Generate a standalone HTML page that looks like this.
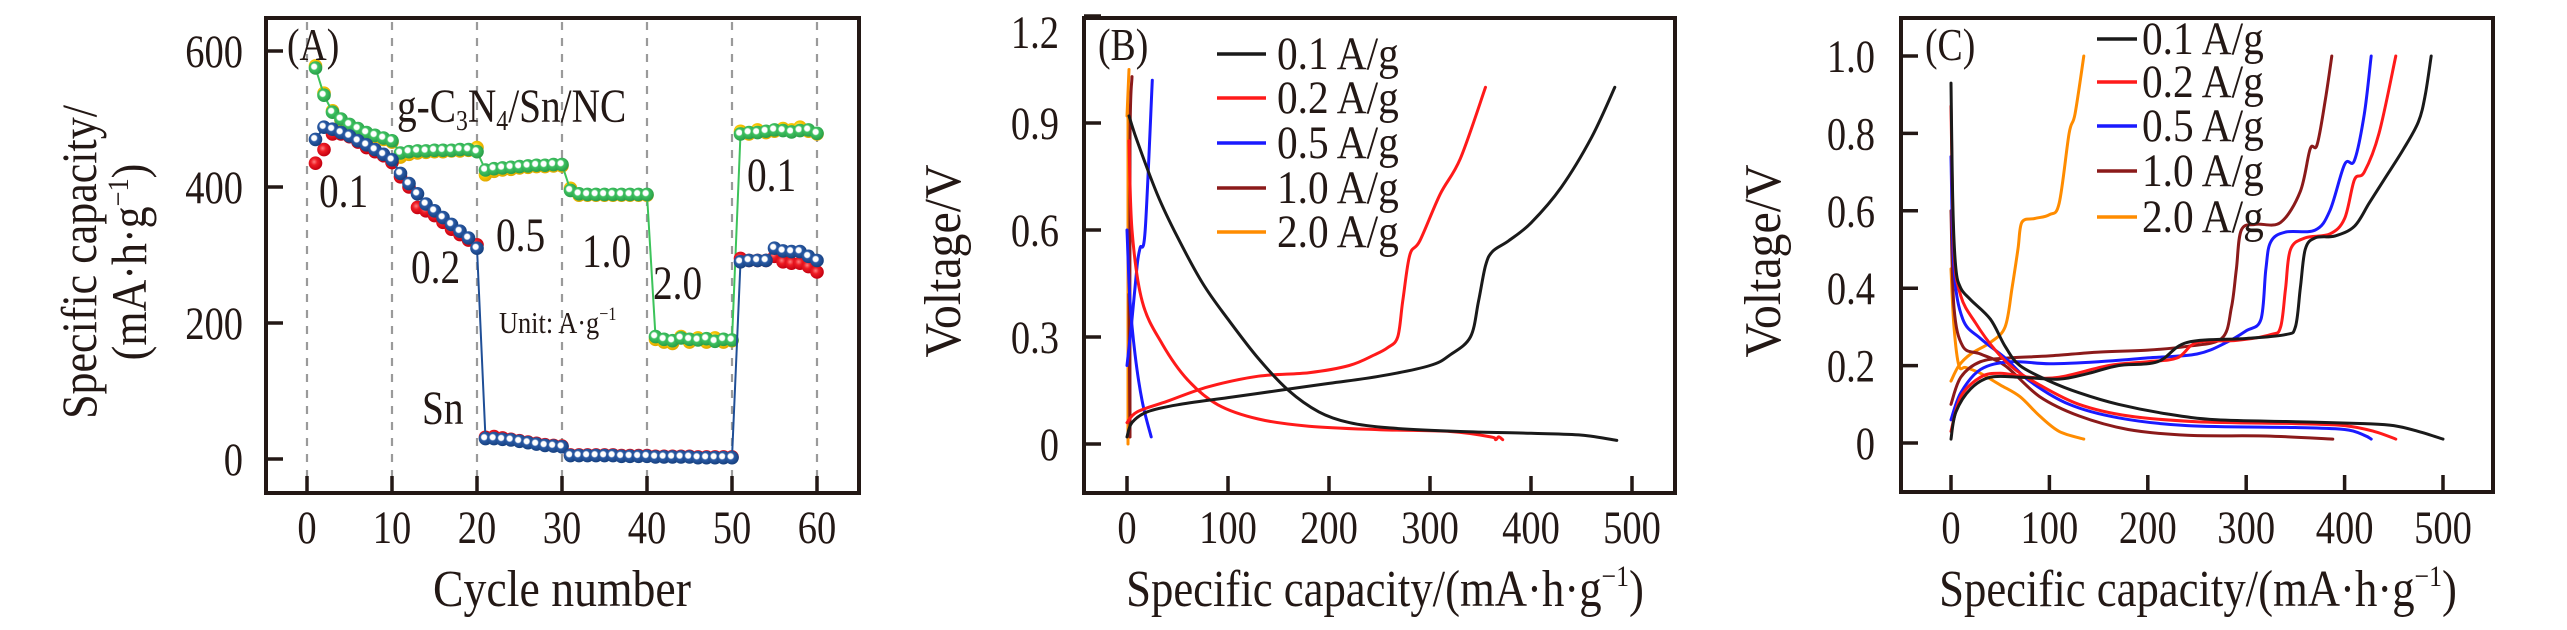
<!DOCTYPE html>
<html><head><meta charset="utf-8"><style>
html,body{margin:0;padding:0;background:#fff;}
svg{display:block;}
text{font-family:"Liberation Serif","DejaVu Serif",serif;fill:#231815;}
</style></head><body>
<svg id="fig" width="2567" height="630" viewBox="0 0 2567 630" xmlns="http://www.w3.org/2000/svg" font-family="Liberation Serif, DejaVu Serif, serif">
<defs>
<radialGradient id="gGreen" cx="0.4" cy="0.4" r="0.6"><stop offset="0" stop-color="#ffffff"/><stop offset="0.3" stop-color="#ffffff"/><stop offset="0.45" stop-color="#3dc160"/><stop offset="1" stop-color="#2a9e48"/></radialGradient>
<radialGradient id="gYellow" cx="0.4" cy="0.4" r="0.6"><stop offset="0" stop-color="#fff3a0"/><stop offset="0.5" stop-color="#f7c600"/><stop offset="1" stop-color="#e0a800"/></radialGradient>
<radialGradient id="gBlue" cx="0.4" cy="0.4" r="0.6"><stop offset="0" stop-color="#ffffff"/><stop offset="0.3" stop-color="#ffffff"/><stop offset="0.45" stop-color="#2a5aa5"/><stop offset="1" stop-color="#16407f"/></radialGradient>
<radialGradient id="gRed" cx="0.4" cy="0.4" r="0.6"><stop offset="0" stop-color="#ff8080"/><stop offset="0.4" stop-color="#ee1c24"/><stop offset="1" stop-color="#c40010"/></radialGradient>
</defs>
</svg>
<script>
// ---------- Panel A data ----------
const cyclesA = Array.from({length:60},(_,i)=>i+1);
const greenA = [575,535,510,500,492,486,480,476,472,468,450,452,453,453,454,454,454,455,455,452,425,427,428,429,430,431,432,432,433,433,395,390,389,389,389,389,389,389,389,389,180,176,174,178,176,175,177,173,176,175,478,480,480,482,484,483,481,483,484,479];
const yellowA = [578,538,512,498,490,484,478,474,470,466,444,448,450,451,452,452,453,453,454,458,418,423,425,426,428,429,430,430,431,431,398,388,388,388,388,388,388,388,388,388,176,172,170,180,172,178,172,178,172,174,482,478,484,480,482,486,484,488,482,478];
const blueA = [470,488,485,480,475,468,462,455,448,440,420,405,390,375,365,355,345,335,325,310,30,30,29,28,26,24,22,20,19,18,5,5,5,5,5,5,4,4,4,4,3,3,3,3,3,2,2,2,2,2,290,292,292,292,310,306,305,305,298,292];
const redA = [435,455,478,478,474,466,458,452,446,436,415,400,370,365,358,348,338,330,322,315,32,33,31,29,27,25,23,21,20,19,6,6,6,6,6,6,5,5,5,5,4,4,4,4,4,3,3,3,3,3,295,292,292,292,298,290,288,288,283,275];
const xTicksA = [0,10,20,30,40,50,60];
const yTicksA = [0,200,400,600];

// ---------- Panel B data ----------
const ratesB = ["0.1 A/g","0.2 A/g","0.5 A/g","1.0 A/g","2.0 A/g"];
const b01ch = [[0,0.02],[5,0.06],[20,0.09],[50,0.11],[100,0.13],[150,0.15],[200,0.17],[250,0.19],[300,0.22],[320,0.25],[340,0.3],[348,0.4],[355,0.5],[362,0.54],[378,0.57],[400,0.62],[430,0.72],[460,0.86],[483,1.0]];
const b01dc = [[2,0.92],[10,0.85],[30,0.7],[50,0.58],[75,0.45],[100,0.35],[130,0.24],[160,0.15],[190,0.09],[220,0.06],[260,0.045],[330,0.035],[400,0.03],[450,0.025],[485,0.01]];
const b02ch = [[0,0.06],[10,0.09],[40,0.12],[80,0.16],[130,0.19],[180,0.2],[220,0.22],[245,0.25],[258,0.27],[268,0.3],[273,0.4],[280,0.53],[290,0.57],[310,0.7],[330,0.8],[355,1.0]];
const b02dc = [[2,0.85],[5,0.6],[15,0.4],[35,0.28],[60,0.18],[90,0.11],[130,0.07],[180,0.05],[250,0.04],[320,0.035],[360,0.02],[365,0.012],[368,0.02],[372,0.012]];
const b05ch = [[0,0.22],[5,0.35],[10,0.5],[13,0.55],[18,0.6],[25,1.02]];
const b05dc = [[0,0.6],[3,0.4],[8,0.25],[15,0.12],[24,0.02]];
const b10ch = [[3,0.02],[3,0.85],[5,1.03]];
const b10dc = [[2,0.42],[3,0.02]];
const b20ch = [[0,0.92],[2,1.05]];
const b20dc = [[1,0.95],[1,0.0]];
const xTicksB = [0,100,200,300,400,500];
const yTicksB = [0,0.3,0.6,0.9,1.2];

// ---------- Panel C data ----------
const c01dc = [[0,0.93],[2,0.6],[5,0.45],[10,0.4],[20,0.37],[40,0.32],[55,0.25],[70,0.2],[100,0.16],[130,0.13],[170,0.1],[220,0.075],[270,0.06],[350,0.055],[420,0.05],[450,0.045],[475,0.03],[500,0.01]];
const c01ch = [[0,0.01],[5,0.08],[20,0.14],[40,0.17],[70,0.17],[110,0.165],[140,0.18],[170,0.2],[210,0.21],[240,0.26],[300,0.27],[340,0.28],[350,0.3],[355,0.4],[360,0.5],[370,0.53],[390,0.535],[410,0.56],[425,0.62],[440,0.68],[460,0.76],[475,0.83],[482,0.9],[488,1.0]];
const c02dc = [[0,0.87],[3,0.5],[10,0.38],[25,0.31],[45,0.24],[65,0.19],[90,0.15],[130,0.1],[180,0.07],[250,0.055],[350,0.05],[400,0.045],[430,0.03],[452,0.01]];
const c02ch = [[0,0.03],[10,0.12],[30,0.17],[50,0.18],[80,0.17],[110,0.17],[160,0.2],[200,0.21],[230,0.22],[250,0.26],[290,0.265],[325,0.28],[335,0.3],[340,0.4],[345,0.5],[360,0.53],[385,0.54],[400,0.58],[410,0.68],[420,0.7],[435,0.8],[452,1.0]];
const c05dc = [[0,0.74],[3,0.45],[12,0.32],[30,0.27],[55,0.22],[80,0.16],[120,0.1],[170,0.065],[240,0.045],[350,0.04],[400,0.035],[420,0.02],[427,0.01]];
const c05ch = [[0,0.06],[10,0.13],[30,0.19],[60,0.21],[100,0.205],[150,0.21],[200,0.22],[250,0.23],[280,0.26],[300,0.29],[315,0.32],[320,0.45],[325,0.52],[340,0.545],[370,0.55],[385,0.6],[400,0.72],[410,0.73],[420,0.85],[427,1.0]];
const c10dc = [[0,0.6],[3,0.35],[12,0.25],[30,0.23],[55,0.2],[90,0.12],[130,0.07],[180,0.035],[240,0.02],[320,0.018],[388,0.01]];
const c10ch = [[0,0.1],[10,0.17],[30,0.21],[60,0.22],[100,0.225],[150,0.235],[200,0.24],[240,0.25],[275,0.27],[285,0.35],[290,0.45],[295,0.55],[310,0.565],[335,0.57],[355,0.65],[365,0.76],[372,0.77],[380,0.88],[387,1.0]];
const c20dc = [[0,0.45],[3,0.3],[8,0.2],[15,0.195],[30,0.18],[50,0.15],[70,0.12],[90,0.07],[110,0.03],[135,0.01]];
const c20ch = [[0,0.16],[8,0.2],[20,0.23],[40,0.26],[55,0.3],[62,0.4],[68,0.5],[72,0.57],[85,0.58],[100,0.59],[110,0.62],[120,0.8],[126,0.85],[135,1.0]];
const xTicksC = [0,100,200,300,400,500];
const yTicksC = [0,0.2,0.4,0.6,0.8,1.0];

const NS = "http://www.w3.org/2000/svg";
const svg = document.getElementById('fig');
function mk(tag, attrs, parent){
  const e = document.createElementNS(NS, tag);
  for (const k in attrs) e.setAttribute(k, attrs[k]);
  (parent||svg).appendChild(e);
  return e;
}
function lin(d0,d1,p0,p1){ return v => p0 + (v-d0)*(p1-p0)/(d1-d0); }
function txt(x,y,s,anchor,size,sx,parent){
  const t = mk('text',{transform:`translate(${x},${y}) scale(${sx},1)`,'text-anchor':anchor,'font-size':size},parent);
  t.textContent = s;
  return t;
}
const COL = {k:'#1a1a1a', r:'#ff1a1a', b:'#1a1aff', d:'#8b1a1a', o:'#ff8c00'};

function frame(g, box){
  mk('rect',{x:box.l,y:box.t,width:box.r-box.l,height:box.b-box.t,fill:'none',stroke:'#231815','stroke-width':4},g);
}
function xAxis(g, ticks, sx, box, fmt){
  ticks.forEach(v=>{
    const x = sx(v);
    const tk = mk('line',{x1:x,x2:x,y1:box.b,y2:box.b-17,stroke:'#231815','stroke-width':3.5},g);
    
    
    const lb = txt(x,543,fmt(v),'middle',47,0.82,g);
    
    
  });
}
function yAxis(g, ticks, sy, box, fmt, labelRight){
  ticks.forEach(v=>{
    const y = sy(v);
    const tk = mk('line',{x1:box.l,x2:box.l+17,y1:y,y2:y,stroke:'#231815','stroke-width':3.5},g);
    
    
    const ly = Math.max(y, box.t+14);
    const lb = txt(labelRight, ly+16,fmt(v),'end',47,0.82,g);
    
    
  });
}
function smoothPath(P){
  if (P.length<3) return 'M'+P.map(p=>p[0].toFixed(1)+','+p[1].toFixed(1)).join(' L');
  let d = 'M'+P[0][0].toFixed(1)+','+P[0][1].toFixed(1);
  for (let i=0;i<P.length-1;i++){
    const p0=P[Math.max(0,i-1)], p1=P[i], p2=P[i+1], p3=P[Math.min(P.length-1,i+2)];
    const c1=[p1[0]+(p2[0]-p0[0])/6, p1[1]+(p2[1]-p0[1])/6];
    const c2=[p2[0]-(p3[0]-p1[0])/6, p2[1]-(p3[1]-p1[1])/6];
    d += ` C${c1[0].toFixed(1)},${c1[1].toFixed(1)} ${c2[0].toFixed(1)},${c2[1].toFixed(1)} ${p2[0].toFixed(1)},${p2[1].toFixed(1)}`;
  }
  return d;
}
function curve(g, pts, sx, sy, color, name){
  const P = pts.map(q=>[sx(q[0]), sy(q[1])]);
  const p = mk('path',{d:smoothPath(P),fill:'none',stroke:color,'stroke-width':3,'stroke-linejoin':'round','stroke-linecap':'round'},g);
  
  
}

// ================= Panel A =================
(function(){
  const g = mk('g',{});
  
  
  const box = {l:266,r:859,t:18,b:493};
  const sx = lin(0,10,307,392), sy = lin(0,600,459,51);
  xTicksA.forEach(v=>{
    const dl = mk('line',{x1:sx(v),x2:sx(v),y1:box.t+4,y2:box.b-4,stroke:'#9a9a9a','stroke-width':2.2,'stroke-dasharray':'8,8'},g);
    
    
  });
  frame(g, box);
  xAxis(g, xTicksA, sx, box, v=>String(v));
  yAxis(g, yTicksA, sy, box, v=>String(v), 243);
  const series = [[yellowA,'gYellow',null,'series-ceff-yellow'],[greenA,'gGreen','#3cc35a','series-gc3n4-sn-nc'],[redA,'gRed',null,'series-sn-red'],[blueA,'gBlue','#1f4e96','series-sn']];
  series.forEach(([vals,grad,lc,name])=>{
    const sg = mk('g',{},g);
    
    
    if (lc){
      const pl = mk('polyline',{points:vals.map((v,i)=>sx(cyclesA[i])+','+sy(v)).join(' '),fill:'none',stroke:lc,'stroke-width':2},sg);
      
      
    }
    vals.forEach((v,i)=>{
      const c = mk('circle',{cx:sx(cyclesA[i]),cy:sy(v),r:6.8,fill:`url(#${grad})`},sg);
      
      
    });
  });
  const ann = [[287,60,'(A)',46,'panel-label-a'],[319,207,'0.1',48,'rate-label-0-1'],[411,283,'0.2',48,'rate-label-0-2'],[496,251,'0.5',48,'rate-label-0-5'],[582,267,'1.0',48,'rate-label-1-0'],[653,299,'2.0',48,'rate-label-2-0'],[747,191,'0.1',48,'rate-label-0-1-return'],[422,424,'Sn',48,'sn-label']];
  ann.forEach(a=>{
    const t = txt(a[0],a[1],a[2],'start',a[3],0.82,g);
    
    
  });
  const gl = mk('text',{transform:'translate(397,122) scale(0.82,1)','font-size':48},g);
  gl.innerHTML = 'g-C<tspan font-size="29" dy="8">3</tspan><tspan dy="-8">N</tspan><tspan font-size="29" dy="8">4</tspan><tspan dy="-8">/Sn/NC</tspan>';
  
  
  const un = mk('text',{transform:'translate(499,333) scale(0.85,1)','font-size':31},g);
  un.innerHTML = 'Unit: A·g<tspan font-size="19" dy="-13">−1</tspan>';
  
  
  const yt = mk('text',{transform:'translate(96,262) rotate(-90) scale(0.88,1)','text-anchor':'middle','font-size':50},g);
  yt.textContent = 'Specific capacity/';
  
  
  const yt2 = mk('text',{transform:'translate(146,262) rotate(-90) scale(0.88,1)','text-anchor':'middle','font-size':50},g);
  yt2.innerHTML = '(mA·h·g<tspan font-size="30" dy="-18">−1</tspan><tspan dy="18">)</tspan>';
  
  
  const xt = txt(562,606,'Cycle number','middle',52,0.88,g);
  
  
})();

// ================= Panel B =================
function legend(g, x1, x2, tx, ys, cols, labels, name){
  labels.forEach((s,i)=>{
    const e = mk('g',{},g);
    
    
    mk('line',{x1:x1,x2:x2,y1:ys[i],y2:ys[i],stroke:cols[i],'stroke-width':3.5},e);
    txt(tx, ys[i]+15, s, 'start', 47, 0.88, e);
  });
}
(function(){
  const g = mk('g',{});
  
  
  const box = {l:1084,r:1675,t:18,b:493};
  const sx = lin(0,100,1127,1228), sy = lin(0,0.3,444,337);
  frame(g, box);
  xAxis(g, xTicksB, sx, box, v=>String(v));
  yAxis(g, yTicksB, sy, box, v=>v===0?'0':v.toFixed(1), 1059);
  [[b20ch,COL.o,'curve-2-0-charge'],[b20dc,COL.o,'curve-2-0-discharge'],[b10ch,COL.d,'curve-1-0-charge'],[b10dc,COL.d,'curve-1-0-discharge'],[b05ch,COL.b,'curve-0-5-charge'],[b05dc,COL.b,'curve-0-5-discharge'],[b02ch,COL.r,'curve-0-2-charge'],[b02dc,COL.r,'curve-0-2-discharge'],[b01ch,COL.k,'curve-0-1-charge'],[b01dc,COL.k,'curve-0-1-discharge']].forEach(c=>curve(g,c[0],sx,sy,c[1],c[2]));
  legend(g,1217,1266,1277,[54,98,143,188,232],[COL.k,COL.r,COL.b,COL.d,COL.o],ratesB,'legend-entry-b');
  const pl = txt(1098,60,'(B)','start',46,0.82,g);
  
  
  const yt = mk('text',{transform:'translate(960,261) rotate(-90) scale(0.92,1)','text-anchor':'middle','font-size':52},g);
  yt.textContent = 'Voltage/V';
  
  
  const xt = mk('text',{transform:'translate(1385,606) scale(0.86,1)','text-anchor':'middle','font-size':52},g);
  xt.innerHTML = 'Specific capacity/(mA·h·g<tspan font-size="30" dy="-20">−1</tspan><tspan dy="20">)</tspan>';
  
  
})();

// ================= Panel C =================
(function(){
  const g = mk('g',{});
  
  
  const box = {l:1901,r:2493,t:18,b:492};
  const sx = lin(0,500,1951,2443), sy = lin(0,1.0,443,56);
  frame(g, box);
  xAxis(g, xTicksC, sx, box, v=>String(v));
  yAxis(g, yTicksC, sy, box, v=>v===0?'0':v.toFixed(1), 1875);
  [[c20dc,COL.o,'curve-2-0-discharge'],[c20ch,COL.o,'curve-2-0-charge'],[c10dc,COL.d,'curve-1-0-discharge'],[c10ch,COL.d,'curve-1-0-charge'],[c05dc,COL.b,'curve-0-5-discharge'],[c05ch,COL.b,'curve-0-5-charge'],[c02dc,COL.r,'curve-0-2-discharge'],[c02ch,COL.r,'curve-0-2-charge'],[c01dc,COL.k,'curve-0-1-discharge'],[c01ch,COL.k,'curve-0-1-charge']].forEach(c=>curve(g,c[0],sx,sy,c[1],c[2]));
  legend(g,2097,2137,2142,[39,82,126,171,217],[COL.k,COL.r,COL.b,COL.d,COL.o],ratesB,'legend-entry-c');
  const pl = txt(1925,60,'(C)','start',46,0.82,g);
  
  
  const yt = mk('text',{transform:'translate(1780,261) rotate(-90) scale(0.92,1)','text-anchor':'middle','font-size':52},g);
  yt.textContent = 'Voltage/V';
  
  
  const xt = mk('text',{transform:'translate(2198,606) scale(0.86,1)','text-anchor':'middle','font-size':52},g);
  xt.innerHTML = 'Specific capacity/(mA·h·g<tspan font-size="30" dy="-20">−1</tspan><tspan dy="20">)</tspan>';
  
  
})();
</script>
</body></html>
